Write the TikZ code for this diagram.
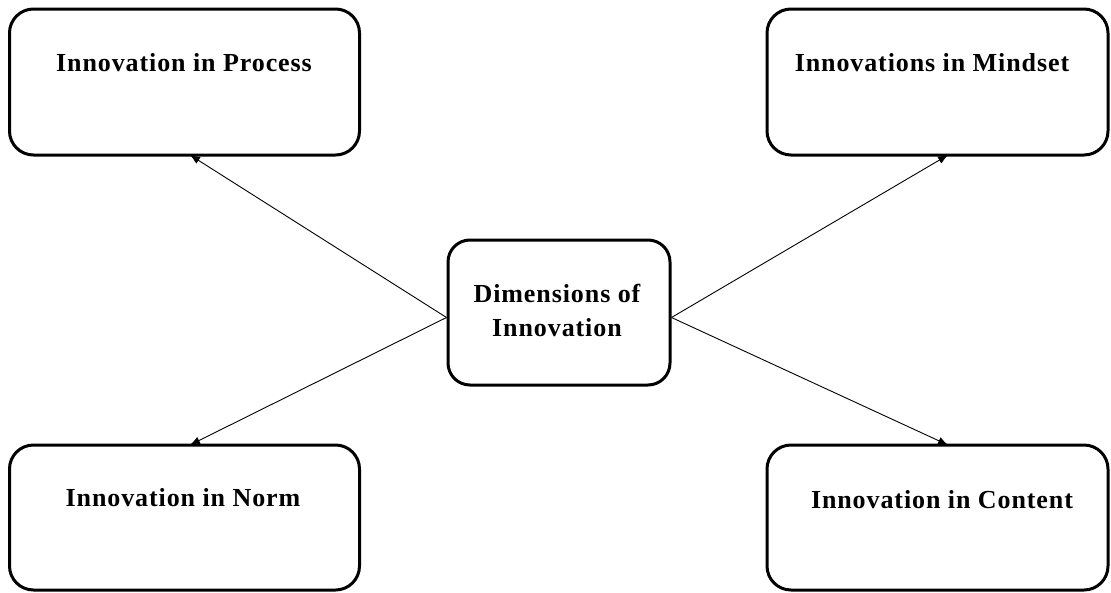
\documentclass[tikz,border=0pt]{standalone}
\usepackage{fontspec}
\setmainfont{Liberation Serif}
\usetikzlibrary{arrows.meta}
\begin{document}
\begin{tikzpicture}[x=1pt,y=-1pt,
  boxst/.style={draw=black,line width=3pt,rounded corners=24pt,inner sep=0pt},
  txt/.style={font=\fontsize{26}{34}\selectfont\bfseries\addfontfeature{LetterSpace=3.5},align=center,inner sep=0pt},
  conn/.style={line width=0.9pt,-{Latex[length=10pt,width=8pt]}}]
\useasboundingbox (0,0) rectangle (1111,592);
\fill[white] (0,0) rectangle (1111,592);
\node[boxst,minimum width=350pt,minimum height=146pt] (tl) at (184.5,82) {};
\node[boxst,minimum width=341pt,minimum height=146pt] (tr) at (937.5,82) {};
\node[boxst,minimum width=350pt,minimum height=145pt] (bl) at (184.5,517.5) {};
\node[boxst,minimum width=341pt,minimum height=145pt] (br) at (937.5,517.5) {};
\node[boxst,rounded corners=22pt,minimum width=222pt,minimum height=145pt] (c) at (559,312.5) {};
\node[txt] (tlt) at (184,63) {Innovation in Process};
\node[txt] (trt) at (932,63) {Innovations in Mindset};
\node[txt] (blt) at (183,498) {Innovation in Norm};
\node[txt] (brt) at (942,500) {Innovation in Content};
\node[txt] (ct) at (557,310) {Dimensions of\\Innovation};
\coordinate (tla) at (190,155);
\coordinate (bla) at (190,445);
\coordinate (tra) at (948,155);
\coordinate (bra) at (948,445);
\draw[conn] ([yshift=-5pt]c.west) -- (tla);
\draw[conn] ([yshift=-5pt]c.west) -- (bla);
\draw[conn] ([yshift=-5pt]c.east) -- (tra);
\draw[conn] ([yshift=-5pt]c.east) -- (bra);
\end{tikzpicture}
\end{document}
